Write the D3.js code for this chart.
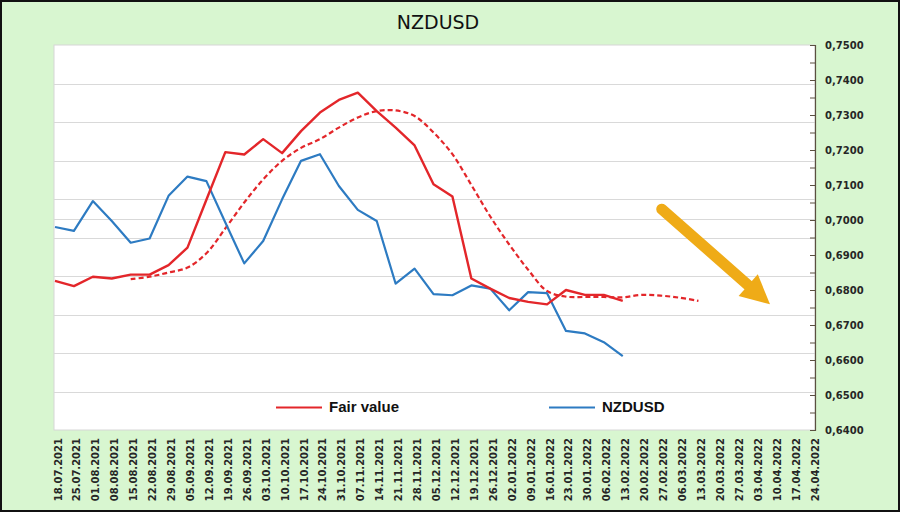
<!DOCTYPE html>
<html>
<head>
<meta charset="utf-8">
<script src="https://cdn.jsdelivr.net/npm/d3@7"></script>
<style>
  html, body { margin: 0; padding: 0; background: #fff; }
  svg { display: block; }
</style>
</head>
<body>
<svg id="chart" width="900" height="512"></svg>
<script>
// ---------- DATA ----------
const categories = [
  "18.07.2021","25.07.2021","01.08.2021","08.08.2021","15.08.2021","22.08.2021","29.08.2021",
  "05.09.2021","12.09.2021","19.09.2021","26.09.2021","03.10.2021","10.10.2021","17.10.2021",
  "24.10.2021","31.10.2021","07.11.2021","14.11.2021","21.11.2021","28.11.2021","05.12.2021",
  "12.12.2021","19.12.2021","26.12.2021","02.01.2022","09.01.2022","16.01.2022","23.01.2022",
  "30.01.2022","06.02.2022","13.02.2022","20.02.2022","27.02.2022","06.03.2022","13.03.2022",
  "20.03.2022","27.03.2022","03.04.2022","10.04.2022","17.04.2022","24.04.2022"
];
const fairValue = [
  0.6826,0.6811,0.6838,0.6833,0.6844,0.6844,0.6871,0.6921,0.7058,0.7194,0.7187,0.7231,
  0.7191,0.7254,0.7307,0.7343,0.7364,0.7311,0.7264,0.7213,0.7102,0.7067,0.6833,0.6804,
  0.6777,0.6766,0.6759,0.6800,0.6786,0.6786,0.6769
];
const fairTrend = [
  null,null,null,null,0.6831,0.6838,0.6850,0.6864,0.6905,0.6976,0.7050,0.7116,0.7169,
  0.7206,0.7231,0.7264,0.7293,0.7311,0.7313,0.7297,0.7250,0.7188,0.7100,0.7010,0.6930,
  0.6858,0.6797,0.6781,0.6780,0.6780,0.6779,0.6786,0.6784,0.6778,0.6769
];
const nzdusd = [
  0.6980,0.6969,0.7054,0.6997,0.6935,0.6947,0.7069,0.7124,0.7111,0.6993,0.6876,0.6940,
  0.7059,0.7169,0.7188,0.7097,0.7029,0.6997,0.6818,0.6861,0.6788,0.6785,0.6813,0.6804,
  0.6742,0.6794,0.6791,0.6683,0.6676,0.6651,0.6611
];
const yTicks = [0.64,0.65,0.66,0.67,0.68,0.69,0.70,0.71,0.72,0.73,0.74,0.75];
const seriesNames = ["Fair value", "NZDUSD"];
// annotation arrow: [category position, value] start and tip
const arrowFrom = [32.06, 0.7031];
const arrowTo = [37.78, 0.6759];

// ---------- LAYOUT ----------
const W = 900, H = 512;
const plot = { left: 54, right: 815, top: 45, bottom: 430 };
const svg = d3.select("#chart");

const x = d3.scalePoint().domain(categories).range([55, 812]);
const step = x.step();
const xAt = i => x(categories[0]) + i * step;
const y = d3.scaleLinear().domain([0.64, 0.75]).range([plot.bottom, plot.top]);
const yGrid = d3.scaleLinear().domain([0, 10]).range([plot.bottom, plot.top]);

// background
svg.append("rect").attr("x", 0).attr("y", 0).attr("width", W).attr("height", H)
  .attr("fill", "#d8f6d0");
svg.append("rect").attr("x", 1).attr("y", 1).attr("width", W - 2).attr("height", H - 2)
  .attr("fill", "none").attr("stroke", "#111").attr("stroke-width", 2);

// plot area
svg.append("rect")
  .attr("x", plot.left).attr("y", plot.top)
  .attr("width", plot.right - plot.left).attr("height", plot.bottom - plot.top)
  .attr("fill", "#ffffff").attr("stroke", "#d6d6d6").attr("stroke-width", 1);

// gridlines (hidden primary axis)
svg.append("g").selectAll("line").data(yGrid.ticks(10).filter(d => d > 0 && d < 10)).join("line")
  .attr("x1", plot.left).attr("x2", plot.right)
  .attr("y1", d => Math.round(yGrid(d)) + 0.5).attr("y2", d => Math.round(yGrid(d)) + 0.5)
  .attr("stroke", "#d9d9d9").attr("stroke-width", 1);
svg.append("line")
  .attr("x1", plot.left).attr("x2", plot.right)
  .attr("y1", Math.round(y(0.70)) - 0.5).attr("y2", Math.round(y(0.70)) - 0.5)
  .attr("stroke", "#d9d9d9").attr("stroke-width", 1);

// right axis
const minorTicks = d3.range(0.64, 0.7501, 0.005);
const yAxis = d3.axisRight(y).tickValues(minorTicks).tickSize(-5)
  .tickFormat(d => {
    const isMajor = yTicks.some(t => Math.abs(t - d) < 1e-6);
    return isMajor ? d3.format(".4f")(d).replace(".", ",") : "";
  });
const gy = svg.append("g").attr("transform", `translate(${plot.right},0)`).call(yAxis);
gy.select(".domain").attr("stroke", "#5a5040").attr("stroke-width", 1.2);
gy.selectAll(".tick line").attr("stroke", "#5a5040");
gy.selectAll(".tick text")
  .attr("x", 10)
  .attr("fill", "#262626")
  .style("font-family", "DejaVu Sans, Verdana, sans-serif")
  .style("font-weight", "bold")
  .style("font-size", "10px");

// x labels
svg.append("g").selectAll("text").data(categories).join("text")
  .attr("transform", d => `translate(${x(d) + 3},438) rotate(-90)`)
  .attr("dy", "0.35em")
  .attr("text-anchor", "end")
  .attr("fill", "#262626")
  .style("font-family", "DejaVu Sans, Verdana, sans-serif")
  .style("font-weight", "bold")
  .style("font-size", "10px")
  .text(d => d);

// lines
const lineStraight = d3.line()
  .defined(d => d != null)
  .x((d, i) => xAt(i)).y(d => y(d));

const trendPts = fairTrend.map((v, i) => v == null ? null : [xAt(i), y(v)]).filter(p => p);
svg.append("path")
  .attr("d", d3.line().curve(d3.curveCatmullRom.alpha(0.5))(trendPts))
  .attr("fill", "none").attr("stroke", "#e3262a").attr("stroke-width", 2.2)
  .attr("stroke-dasharray", "5,3");

svg.append("path").datum(nzdusd)
  .attr("d", lineStraight)
  .attr("fill", "none").attr("stroke", "#2d7bc2").attr("stroke-width", 2.2)
  .attr("stroke-linejoin", "round");

svg.append("path").datum(fairValue)
  .attr("d", lineStraight)
  .attr("fill", "none").attr("stroke", "#e3262a").attr("stroke-width", 2.4)
  .attr("stroke-linejoin", "round");

// arrow annotation
const ax0 = xAt(arrowFrom[0]), ay0 = y(arrowFrom[1]);
const ax1 = xAt(arrowTo[0]), ay1 = y(arrowTo[1]);
const dx = ax1 - ax0, dy = ay1 - ay0, len = Math.hypot(dx, dy);
const ux = dx / len, uy = dy / len, px = -uy, py = ux;
const headLen = 29, headHalf = 14.5;
const bx = ax1 - ux * headLen, by = ay1 - uy * headLen;
const arrowColor = "#efab17";
svg.append("line")
  .attr("x1", ax0).attr("y1", ay0).attr("x2", bx + ux * 2).attr("y2", by + uy * 2)
  .attr("stroke", arrowColor).attr("stroke-width", 11).attr("stroke-linecap", "round");
svg.append("path")
  .attr("d", `M${ax1},${ay1} L${bx + px * headHalf},${by + py * headHalf} L${bx - px * headHalf},${by - py * headHalf} Z`)
  .attr("fill", arrowColor);

// title
svg.append("text")
  .attr("x", 438).attr("y", 29)
  .attr("text-anchor", "middle")
  .attr("fill", "#111")
  .style("font-family", "DejaVu Sans, Verdana, sans-serif")
  .style("font-size", "19px")
  .text("NZDUSD");

// legend
const legend = svg.append("g");
const legendItems = [
  { name: seriesNames[0], color: "#e3262a", x0: 276 },
  { name: seriesNames[1], color: "#2d7bc2", x0: 549 }
];
legendItems.forEach(it => {
  legend.append("line")
    .attr("x1", it.x0).attr("x2", it.x0 + 46)
    .attr("y1", 407.5).attr("y2", 407.5)
    .attr("stroke", it.color).attr("stroke-width", 2.2);
  legend.append("text")
    .attr("x", it.x0 + 53).attr("y", 412)
    .attr("fill", "#111")
    .style("font-family", "Liberation Sans, Arial, sans-serif")
    .style("font-weight", "bold")
    .style("font-size", "15px")
    .text(it.name);
});
</script>
</body>
</html>
